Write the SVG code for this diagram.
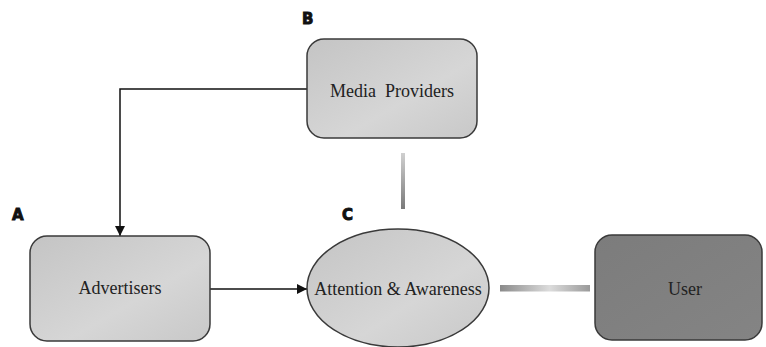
<svg xmlns="http://www.w3.org/2000/svg" width="766" height="347" viewBox="0 0 766 347">
  <defs>
    <linearGradient id="boxFill" x1="0" y1="0" x2="1" y2="1">
      <stop offset="0" stop-color="#c4c4c4"/>
      <stop offset="0.6" stop-color="#d6d6d6"/>
      <stop offset="1" stop-color="#c8c8c8"/>
    </linearGradient>
    <linearGradient id="userFill" x1="0" y1="0" x2="1" y2="1">
      <stop offset="0" stop-color="#7c7c7c"/>
      <stop offset="1" stop-color="#848484"/>
    </linearGradient>
    <linearGradient id="barV" x1="0" y1="0" x2="0" y2="1">
      <stop offset="0" stop-color="#d0d0d0"/>
      <stop offset="1" stop-color="#7a7a7a"/>
    </linearGradient>
    <linearGradient id="barH" x1="0" y1="0" x2="1" y2="0">
      <stop offset="0" stop-color="#8a8a8a"/>
      <stop offset="0.55" stop-color="#dcdcdc"/>
      <stop offset="1" stop-color="#9a9a9a"/>
    </linearGradient>
    <marker id="arrow" viewBox="0 0 10 10" refX="10" refY="5" markerWidth="10" markerHeight="10" markerUnits="userSpaceOnUse" orient="auto">
      <path d="M0,0 L10,5 L0,10 Z" fill="#111"/>
    </marker>
  </defs>
  <style>
    .node { stroke: #3a3a3a; stroke-width: 1.5; }
    .label { font-family: 'Liberation Serif', 'DejaVu Serif', serif; font-size: 18px; fill: #222; text-anchor: middle; }
    .tag { font-family: 'DejaVu Sans', 'Liberation Sans', sans-serif; font-weight: bold; font-size: 15px; fill: #111; stroke: #111; stroke-width: 0.9; }
    .link { fill: none; stroke: #111; stroke-width: 1.5; }
  </style>
  <rect width="766" height="347" fill="#ffffff"/>

  <g id="connectors">
    <polyline class="link" points="307,89 120,89 120,236" marker-end="url(#arrow)"/>
    <line class="link" x1="210" y1="289" x2="307" y2="289" marker-end="url(#arrow)"/>
    <rect x="401" y="153" width="4" height="56" fill="url(#barV)"/>
    <rect x="500" y="285" width="90" height="6.5" fill="url(#barH)"/>
  </g>

  <g id="media-providers">
    <rect class="node" x="307" y="39" width="170" height="99" rx="17" fill="url(#boxFill)"/>
    <text class="label" x="392" y="97" xml:space="preserve">Media  Providers</text>
    <text class="tag" x="302" y="24">B</text>
  </g>

  <g id="advertisers">
    <rect class="node" x="30" y="236" width="180" height="105" rx="17" fill="url(#boxFill)"/>
    <text class="label" x="120" y="294">Advertisers</text>
    <text class="tag" x="12" y="220">A</text>
  </g>

  <g id="attention-awareness">
    <ellipse class="node" cx="398" cy="288" rx="91" ry="59" fill="url(#boxFill)"/>
    <text class="label" x="398" y="295">Attention &amp; Awareness</text>
    <text class="tag" x="342" y="220">C</text>
  </g>

  <g id="user">
    <rect class="node" x="595" y="235" width="167" height="105" rx="17" fill="url(#userFill)"/>
    <text class="label" x="685" y="295">User</text>
  </g>
</svg>
